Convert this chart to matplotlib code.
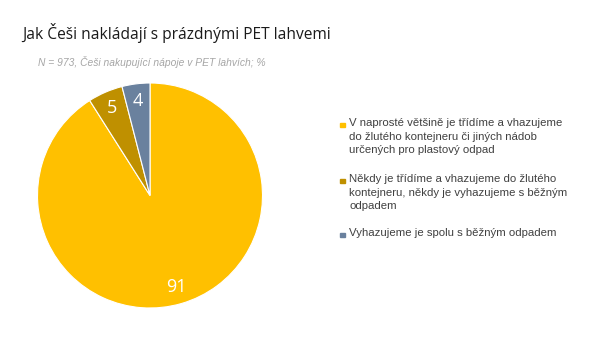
import matplotlib.pyplot as plt
from matplotlib.patches import Rectangle

categories = [
    "V naprosté většině je třídíme a vhazujeme\ndo žlutého kontejneru či jiných nádob\nurčených pro plastový odpad",
    "Někdy je třídíme a vhazujeme do žlutého\nkontejneru, někdy je vyhazujeme s běžným\nodpadem",
    "Vyhazujeme je spolu s běžným odpadem",
]
values = [91, 5, 4]
colors = ["#FFC000", "#BF9000", "#6A819E"]

title = "Jak Češi nakládají s prázdnými PET lahvemi"
subtitle = "N = 973, Češi nakupující nápoje v PET lahvích; %"

W, H = 605, 340
fig = plt.figure(figsize=(W / 100, H / 100), dpi=100)
fig.patch.set_facecolor("white")

fig.text(22 / W, 1 - 33 / H, title, fontsize=11.2, color="#1a1a1a",
         family="Open Sans", va="center", ha="left")
fig.text(38 / W, 1 - 62 / H, subtitle, fontsize=7.4, color="#a6a6a6",
         style="italic", family="Liberation Sans", va="center", ha="left")

# pie axes: center (150,195), radius ~112 px
r = 112.5
cx, cy = 150, 195.5
ax = fig.add_axes([(cx - r) / W, 1 - (cy + r) / H, 2 * r / W, 2 * r / H])
wedges, texts = ax.pie(values, colors=colors, startangle=90, counterclock=False,
                       labels=[str(v) for v in values], labeldistance=0.85,
                       wedgeprops=dict(edgecolor="white", linewidth=0.8),
                       textprops=dict(color="white", fontsize=13, family="Open Sans"))
for t in texts:
    t.set_ha("center")
    t.set_va("center")
ax.set_xlim(-1, 1)
ax.set_ylim(-1, 1)
ax.set_aspect("equal")
ax.axis("off")

# legend
ys = [125, 181, 235]
for cat, col, y in zip(categories, colors, ys):
    fig.patches.append(Rectangle((340 / W, 1 - (y + 2) / H), 4.5 / W, 4.5 / H,
                                 transform=fig.transFigure, color=col, figure=fig))
    fig.text(349 / W, 1 - (y - 6.5) / H, cat, fontsize=8.2, color="#404040",
             family="Liberation Sans", va="top", ha="left", linespacing=1.4)

fig.savefig("out.png", dpi=100)
